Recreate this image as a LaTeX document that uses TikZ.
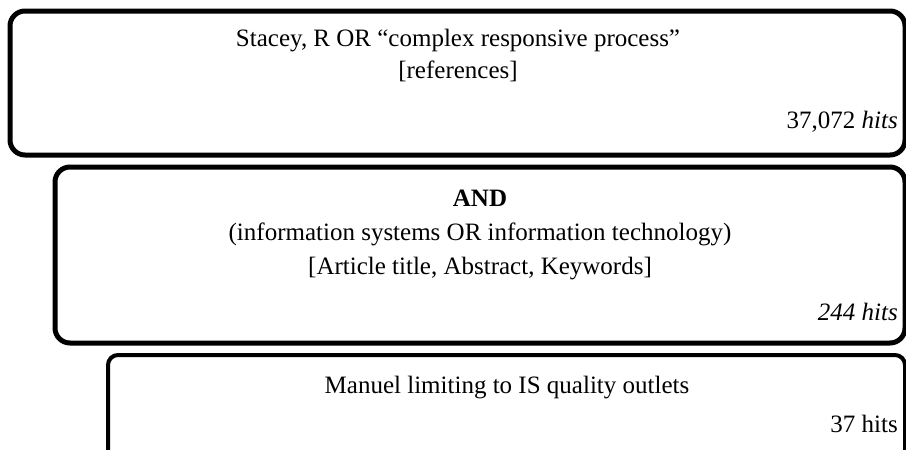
\documentclass[tikz,border=0pt]{standalone}
\usepackage{fontspec}
\setmainfont{Liberation Serif}
\begin{document}
\begin{tikzpicture}[x=1pt,y=-1pt,
  panel/.style={draw=black,line width=5pt,rounded corners=15pt},
  smallpanel/.style={draw=black,line width=4pt,rounded corners=10pt},
  txt/.style={anchor=base,inner sep=0pt,font=\fontsize{25}{30}\selectfont},
  hits/.style={anchor=base east,inner sep=0pt,font=\fontsize{25}{30}\selectfont}]
\useasboundingbox (0,0) rectangle (906,450);
\clip (0,0) rectangle (906,450);
% search stages, stepped to the right
\draw[panel] (10,11) rectangle (905,155);
\draw[panel] (55,167) rectangle (905,343);
\draw[smallpanel] (108,355) rectangle (905,470);
% stage 1
\node[txt] (s1a) at (458,46) {Stacey, R OR “complex responsive process”};
\node[txt] (s1b) at (458,78) {[references]};
\node[hits] (s1h) at (898,128) {37,072 \textit{hits}};
% stage 2
\node[txt] (s2a) at (480,206) {\textbf{AND}};
\node[txt] (s2b) at (480,240) {(information systems OR information technology)};
\node[txt] (s2c) at (480,274) {[Article title, Abstract, Keywords]};
\node[hits] (s2h) at (898,320) {\textit{244 hits}};
% stage 3
\node[txt] (s3a) at (507,393) {Manuel limiting to IS quality outlets};
\node[hits] (s3h) at (898,432) {37 hits};
\end{tikzpicture}
\end{document}
